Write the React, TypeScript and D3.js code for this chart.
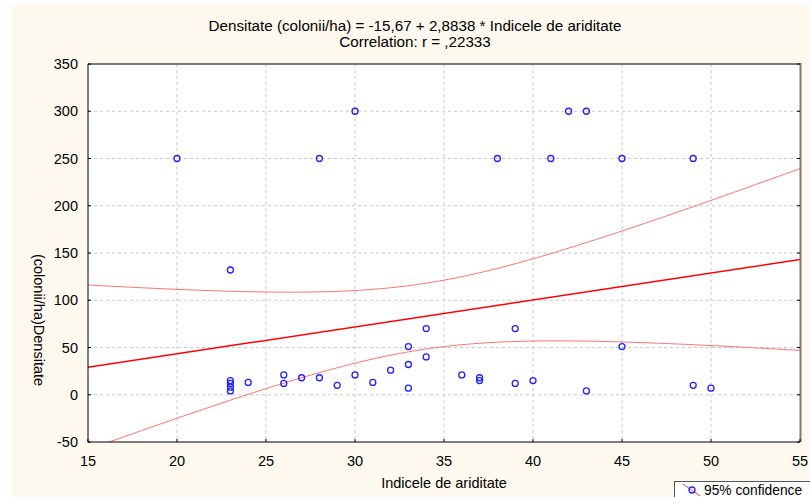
import React from "react";
import * as d3 from "d3";

// Indicele de ariditate (x) and Densitate colonii/ha (y)
const aridity = [
  20, 23, 23, 23, 23, 23, 24, 26, 26, 27, 28, 28, 29, 30, 30, 31, 32, 33, 33,
  33, 34, 34, 36, 37, 37, 38, 39, 39, 40, 41, 42, 43, 43, 45, 45, 49, 49, 50,
];
const density = [
  250, 132, 15, 12, 8, 4, 13, 21, 12, 18, 18, 250, 10, 21, 300, 13, 26, 51,
  32, 7, 70, 40, 21, 18, 15, 250, 70, 12, 15, 250, 300, 300, 4, 51, 250, 250,
  10, 7,
];

const xTicks = [15, 20, 25, 30, 35, 40, 45, 50, 55];
const yTicks = [-50, 0, 50, 100, 150, 200, 250, 300, 350];

const titleLines = [
  "Densitate (colonii/ha) = -15,67 + 2,8838 * Indicele de ariditate",
  "Correlation: r = ,22333",
];
const xLabel = "Indicele de ariditate";
const yLabel = "(colonii/ha)Densitate";
const legendLabel = "95% confidence";

const T_CRIT = 2.028; // t(0.975, df = 36)

const W = 810;
const H = 497;
const margin = { left: 88, right: 800, top: 64, bottom: 442 };

const App = () => {
  const x = d3.scaleLinear().domain([15, 55]).range([margin.left, margin.right]);
  const y = d3.scaleLinear().domain([-50, 350]).range([margin.bottom, margin.top]);

  // least squares fit and its 95% confidence band
  const n = aridity.length;
  const mx = d3.mean(aridity);
  const my = d3.mean(density);
  let sxx = 0;
  let sxy = 0;
  aridity.forEach((v, i) => {
    sxx += (v - mx) * (v - mx);
    sxy += (v - mx) * (density[i] - my);
  });
  const slope = sxy / sxx;
  const icpt = my - slope * mx;
  let sse = 0;
  aridity.forEach((v, i) => {
    const r = density[i] - (icpt + slope * v);
    sse += r * r;
  });
  const s = Math.sqrt(sse / (n - 2));
  const band = (v) => T_CRIT * s * Math.sqrt(1 / n + ((v - mx) * (v - mx)) / sxx);

  const xs = d3.range(15, 55.01, 0.25);
  const line = d3
    .line()
    .x((d) => x(d[0]))
    .y((d) => y(d[1]));
  const fitPath = line([
    [15, icpt + slope * 15],
    [55, icpt + slope * 55],
  ]);
  const upperPath = line(xs.map((v) => [v, icpt + slope * v + band(v)]));
  const lowerPath = line(xs.map((v) => [v, icpt + slope * v - band(v)]));

  const font = "'Liberation Sans', Arial, sans-serif";
  const midX = (margin.left + margin.right) / 2;

  return (
    <svg
      width={W}
      height={H}
      style={{ position: "absolute", left: 0, top: 0, display: "block" }}
    >
      <rect x={0} y={0} width={W} height={H} fill="#ffffff" />
      <rect x={12} y={5} width={W - 12} height={H - 5} fill="#fdf9ee" />

      {/* title */}
      {titleLines.map((t, i) => (
        <text
          key={i}
          x={415}
          y={31 + i * 16}
          textAnchor="middle"
          fontFamily={font}
          fontSize={15.2}
          fill="#000"
        >
          {t}
        </text>
      ))}

      {/* plot area */}
      <rect
        x={margin.left}
        y={margin.top}
        width={margin.right - margin.left}
        height={margin.bottom - margin.top}
        fill="#ffffff"
      />
      <clipPath id="plotClip">
        <rect
          x={margin.left}
          y={margin.top}
          width={margin.right - margin.left}
          height={margin.bottom - margin.top}
        />
      </clipPath>

      {/* grid */}
      <g stroke="#c8c8c8" strokeWidth={1} strokeDasharray="3,3">
        {xTicks.slice(1, -1).map((t) => (
          <line key={t} x1={x(t)} x2={x(t)} y1={margin.top} y2={margin.bottom} />
        ))}
        {yTicks.slice(1, -1).map((t) => (
          <line key={t} x1={margin.left} x2={margin.right} y1={y(t)} y2={y(t)} />
        ))}
      </g>

      <g clipPath="url(#plotClip)" fill="none">
        <path d={upperPath} stroke="#ff7070" strokeWidth={1} />
        <path d={lowerPath} stroke="#ff7070" strokeWidth={1} />
        <path d={fitPath} stroke="#ff0000" strokeWidth={1.5} />
      </g>

      {/* points */}
      <g fill="none" stroke="#2020ff" strokeWidth={1.3}>
        {aridity.map((v, i) => (
          <circle key={i} cx={x(v)} cy={y(density[i])} r={3} />
        ))}
      </g>

      {/* frame */}
      <line x1={margin.left} x2={margin.right + 1} y1={margin.top} y2={margin.top} stroke="#7a7a7a" strokeWidth={2} />
      <line x1={margin.right + 0.5} x2={margin.right + 0.5} y1={margin.top - 1} y2={margin.bottom} stroke="#7a7a7a" strokeWidth={2} />
      <line x1={margin.left} x2={margin.left} y1={margin.top} y2={margin.bottom + 0.5} stroke="#000" strokeWidth={1} />
      <line x1={margin.left} x2={margin.right} y1={margin.bottom} y2={margin.bottom} stroke="#000" strokeWidth={1} />

      {/* ticks */}
      <g stroke="#000" strokeWidth={1}>
        {yTicks.map((t) => (
          <g key={t}>
            <line x1={margin.left} x2={margin.left + 3} y1={y(t)} y2={y(t)} />
            <line x1={margin.right - 3} x2={margin.right} y1={y(t)} y2={y(t)} />
          </g>
        ))}
        {xTicks.map((t) => (
          <line key={t} x1={x(t)} x2={x(t)} y1={margin.bottom - 3} y2={margin.bottom} />
        ))}
      </g>

      <g fontFamily={font} fontSize={14.5} fill="#000">
        {yTicks.map((t) => (
          <text key={t} x={margin.left - 10} y={y(t) + 5} textAnchor="end">
            {t}
          </text>
        ))}
        {xTicks.map((t) => (
          <text key={t} x={x(t)} y={margin.bottom + 24} textAnchor="middle">
            {t}
          </text>
        ))}
        <text x={midX} y={488} textAnchor="middle">
          {xLabel}
        </text>
        <text transform={`translate(34, 320) rotate(90)`} textAnchor="middle">
          {yLabel}
        </text>
      </g>

      {/* legend */}
      <rect x={674.5} y={481.5} width={150} height={30} fill="#ffffff" stroke="#555" strokeWidth={1} />
      <line x1={683} y1={484} x2={700} y2={496} stroke="#ff4040" strokeWidth={1} />
      <circle cx={692} cy={490} r={3} fill="none" stroke="#2020ff" strokeWidth={1.3} />
      <text x={704} y={495} fontFamily={font} fontSize={13.8} fill="#000">
        {legendLabel}
      </text>
    </svg>
  );
};

export default App;
